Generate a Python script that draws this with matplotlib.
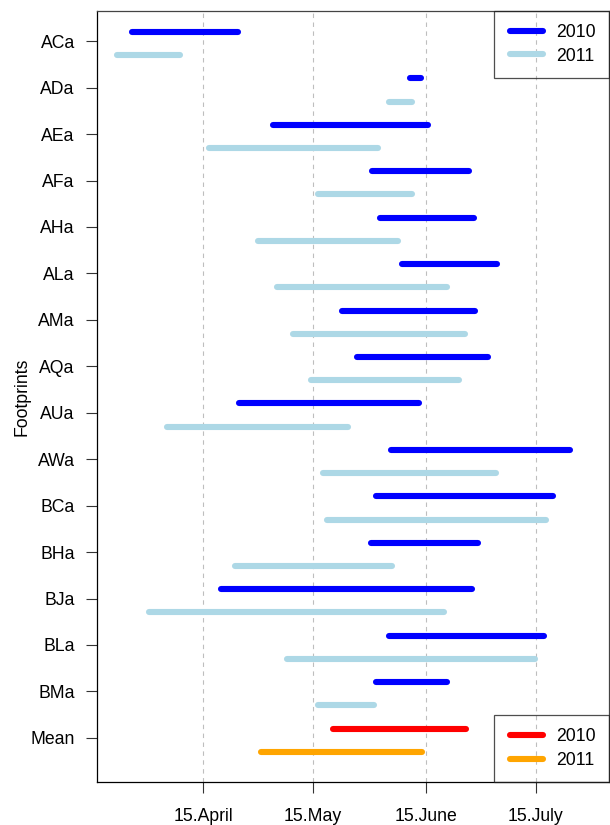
import matplotlib.pyplot as plt
from matplotlib.lines import Line2D
from matplotlib.legend_handler import HandlerLine2D

# footprint names, top to bottom
sites = ['ACa', 'ADa', 'AEa', 'AFa', 'AHa', 'ALa', 'AMa', 'AQa',
         'AUa', 'AWa', 'BCa', 'BHa', 'BJa', 'BLa', 'BMa']

# start / end of each period as day of year
start_2010 = [85.6, 161.5, 124.0, 151.3, 153.4, 159.4, 143.0, 147.2,
              114.8, 156.3, 152.2, 150.9, 109.9, 155.8, 152.2]
end_2010 = [114.6, 164.5, 166.4, 177.6, 179.0, 185.4, 179.4, 182.8,
            164.1, 205.3, 200.6, 180.1, 178.6, 198.1, 171.6]
start_2011 = [81.5, 155.8, 106.6, 136.5, 119.9, 125.2, 129.6, 134.5,
              95.2, 137.7, 138.9, 113.7, 90.1, 127.9, 136.5]
end_2011 = [98.8, 162.0, 152.7, 162.1, 158.2, 171.7, 176.5, 175.0,
            144.5, 185.1, 198.7, 156.6, 170.9, 195.7, 151.8]

mean_2010 = (140.4, 176.9)
mean_2011 = (120.9, 164.8)

tick_days = [105, 135, 166, 196]
tick_labels = ['15.April', '15.May', '15.June', '15.July']

plt.rcParams['font.family'] = ['Liberation Sans', 'DejaVu Sans']
plt.rcParams['font.size'] = 12.7

fig = plt.figure(figsize=(6.1, 8.25), dpi=100)
ax = fig.add_axes([97 / 610, 1 - 782 / 825, 512 / 610, 771 / 825])

lw = 4.4
n = len(sites)
for i, name in enumerate(sites):
    y = n + 1 - i
    ax.plot([start_2010[i], end_2010[i]], [y + 0.2, y + 0.2], color='#0000FF',
            lw=lw, solid_capstyle='round')
    ax.plot([start_2011[i], end_2011[i]], [y - 0.3, y - 0.3], color='#ADD8E6',
            lw=lw, solid_capstyle='round')

ax.plot(mean_2010, [1.2, 1.2], color='#FF0000', lw=lw, solid_capstyle='round')
ax.plot(mean_2011, [0.7, 0.7], color='#FFA500', lw=lw, solid_capstyle='round')

for d in tick_days:
    ax.axvline(d, color='#BEBEBE', lw=0.8, linestyle=(0, (4, 4)), zorder=0)

ax.set_xlim(76, 216)
ax.set_ylim(0.05, 16.65)
ax.set_xticks(tick_days)
ax.set_xticklabels(tick_labels)
ax.set_yticks(range(n + 1, 0, -1))
ax.set_yticklabels(sites + ['Mean'])
ax.tick_params(axis='x', length=8, pad=11, color='#333333')
ax.tick_params(axis='y', length=8, pad=8, color='#333333')

for s in ['left', 'bottom']:
    ax.spines[s].set_color('black')
for s in ['top', 'right']:
    ax.spines[s].set_color('#444444')
for s in ax.spines.values():
    s.set_linewidth(0.9)

ax.set_ylabel('Footprints', va='center')
ax.yaxis.set_label_coords(-0.147, 0.5)

# legend: transparent box, grid shows through like in R
hmap = {Line2D: HandlerLine2D(numpoints=2, marker_pad=0.17)}
leg_kw = dict(frameon=True, fancybox=False, facecolor='none', edgecolor='#222222',
              borderaxespad=0, borderpad=0.75, labelspacing=0.36,
              handlelength=2.18, handletextpad=0.6, handler_map=hmap)

h1 = [Line2D([0], [0], color='#0000FF', lw=lw, solid_capstyle='round'),
      Line2D([0], [0], color='#ADD8E6', lw=lw, solid_capstyle='round')]
leg1 = ax.legend(h1, ['2010', '2011'], loc='upper right', **leg_kw)
leg1.get_frame().set_linewidth(0.9)
ax.add_artist(leg1)

h2 = [Line2D([0], [0], color='#FF0000', lw=lw, solid_capstyle='round'),
      Line2D([0], [0], color='#FFA500', lw=lw, solid_capstyle='round')]
leg2 = ax.legend(h2, ['2010', '2011'], loc='lower right', **leg_kw)
leg2.get_frame().set_linewidth(0.9)

fig.savefig('out.png', dpi=100)
